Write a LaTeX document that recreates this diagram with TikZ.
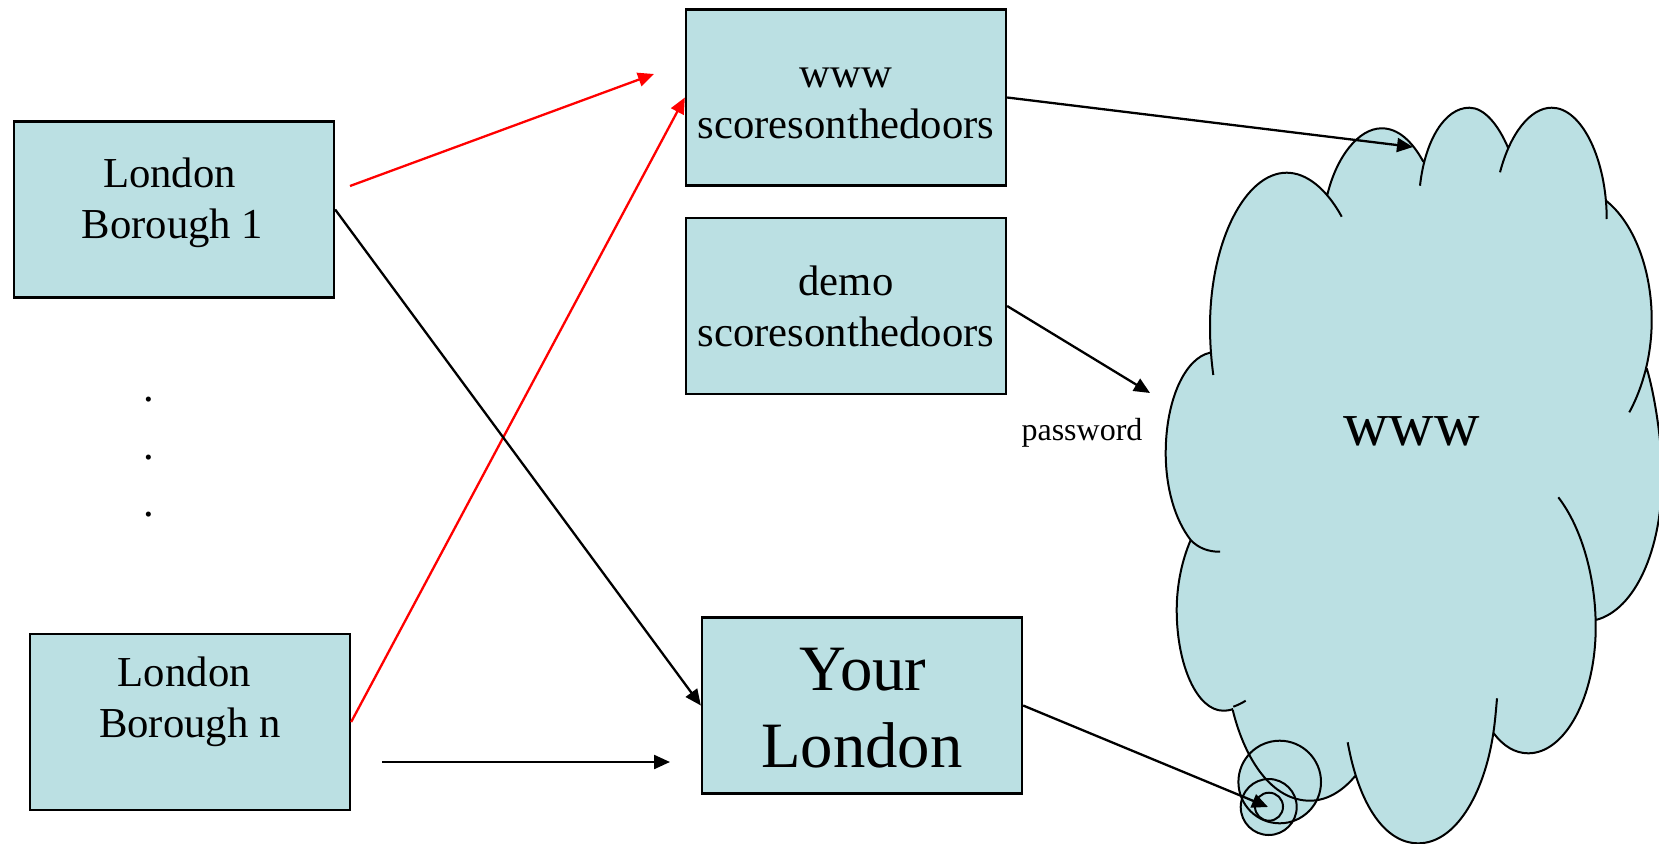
\documentclass[tikz,border=0pt]{standalone}
\usepackage{fontspec}
\setmainfont{Liberation Serif}
\usetikzlibrary{arrows.meta}
\definecolor{cloudblue}{RGB}{187,224,227}
\newcommand{\sizeA}{\fontsize{42.7}{51}\selectfont}
\newcommand{\sizeB}{\fontsize{64.7}{77}\selectfont}
\tikzset{
  boxshape/.style={draw=black,fill=cloudblue,line width=2.3pt,minimum width=#1,minimum height=176pt,inner sep=0pt},
  boxtext/.style={align=center,anchor=base,inner sep=0pt,font=\sizeA},
  bigtext/.style={align=center,anchor=base,inner sep=0pt,font=\sizeB},
  plaintext/.style={anchor=base,inner sep=0pt},
  link/.style={line width=2.3pt,-{Triangle[length=16pt,width=14pt]}},
  redlink/.style={link,red},
  lobe/.style={line width=2pt,line cap=butt},
  ring/.style={line width=2pt,draw=black}
}
\newcommand{\lobeA}{(1213.3,375) .. controls (1211,358) and (1210,342) .. (1210,326.7) .. controls (1210,242) and (1245,172.7) .. (1286.7,172.7) .. controls (1306,172.7) and (1326,188) .. (1341.7,216.7)}
\newcommand{\lobeB}{(1327.3,195) .. controls (1336,158) and (1358,128.3) .. (1381.7,128.3) .. controls (1398,128.3) and (1412,141) .. (1423.3,161.7)}
\newcommand{\lobeC}{(1420,185.7) .. controls (1425,140) and (1445,107.7) .. (1469.3,107.7) .. controls (1484,107.7) and (1498,124) .. (1508.3,148.3)}
\newcommand{\lobeD}{(1500,172.3) .. controls (1510,134) and (1530,107.7) .. (1551.7,107.7) .. controls (1582,107.7) and (1606.7,160) .. (1606.7,219)}
\newcommand{\lobeE}{(1606,200.7) .. controls (1633,222) and (1651.7,268) .. (1651.7,320) .. controls (1651.7,355) and (1643,387) .. (1629.3,412.3)}
\newcommand{\lobeF}{(1646.7,368.3) .. controls (1654,392) and (1662,440) .. (1662,476) .. controls (1662,550) and (1635,610) .. (1595.7,620)}
\newcommand{\lobeG}{(1558.3,497.3) .. controls (1582,528) and (1595.7,578) .. (1595.7,627) .. controls (1595.7,697) and (1565,753.3) .. (1528.3,753.3) .. controls (1515,753.3) and (1503,746) .. (1493.3,732.7)}
\newcommand{\lobeH}{(1497,698.3) .. controls (1496,710) and (1495,722) .. (1493.3,733.3) .. controls (1484,795) and (1455,843.3) .. (1418.3,843.3) .. controls (1385,843.3) and (1359,805) .. (1347.7,742.3)}
\newcommand{\lobeI}{(1356,775) .. controls (1343,791) and (1327,800.7) .. (1310,800.7) .. controls (1272,800.7) and (1245,760) .. (1232.7,710)}
\newcommand{\lobeJ}{(1233,709) .. controls (1229,710.5) and (1226,710.7) .. (1223.3,710.7) .. controls (1197,710.7) and (1176.7,665) .. (1176.7,610) .. controls (1176.7,585) and (1182,560) .. (1190.7,540)}
\newcommand{\lobeK}{(1190.7,540) .. controls (1198,548) and (1209,552) .. (1220,551.7)}
\newcommand{\lobeL}{(1190.7,540) .. controls (1175,520) and (1165.7,488) .. (1165.7,453) .. controls (1165.7,400) and (1185,358) .. (1210,352.7)}
\newcommand{\lobeM}{(1233.3,706.7) .. controls (1238,705) and (1242,703) .. (1245.7,700.7)}
\begin{document}
\begin{tikzpicture}[x=1pt,y=-1pt]
\useasboundingbox (0,0) rectangle (1659,843);
% cloud
\fill[cloudblue] (1279.7,782) circle[radius=41.3];
\fill[cloudblue] (1268.7,807) circle[radius=28];
\fill[cloudblue] \lobeA -- \lobeB -- \lobeC -- \lobeD -- \lobeE -- \lobeF -- \lobeG -- \lobeH -- \lobeI -- \lobeJ -- \lobeL -- cycle;
\draw[lobe] \lobeA \lobeB \lobeC \lobeD \lobeE \lobeF \lobeG \lobeH \lobeI \lobeJ \lobeK \lobeL \lobeM;
\draw[ring] (1279.7,782) circle[radius=41.3];
\draw[ring] (1268.7,807) circle[radius=28];
\draw[ring] (1269,806.7) circle[radius=14];
\node[plaintext] (cloudlabel) at (1411.5,445) {\fontsize{63}{70}\selectfont www};
% boxes
\node[boxshape=320pt] (b1) at (174,209.5) {};
\node[boxshape=320pt] (bn) at (190,722) {};
\node[boxshape=320pt] (wwwbox) at (846,97.5) {};
\node[boxshape=320pt] (demobox) at (846,306) {};
\node[boxshape=320pt] (your) at (862,705.5) {};
% box texts (base anchor sits on the last line)
\node[boxtext] (b1t) at (172.5,238) {London\kern6pt\\Borough 1};
\node[boxtext] (bnt) at (189.8,737.7) {London\kern11pt\\Borough n};
\node[boxtext] (wwwt) at (846,138) {www\\scoresonthedoors};
\node[boxtext] (demot) at (846,346.7) {demo\\scoresonthedoors};
\node[bigtext] (yourt) at (862,767.7) {\kern2pt Your\\London};
% other text
\node[plaintext] (pw) at (1082,440) {\fontsize{32}{38}\selectfont password};
\node[plaintext] (dot1) at (149,401.5) {\sizeA .};
\node[plaintext] (dot2) at (149,459.5) {\sizeA .};
\node[plaintext] (dot3) at (149,516.5) {\sizeA .};
% connector free ends
\coordinate (c1) at (1413,147);
\coordinate (c2) at (1150,393);
\coordinate (c3) at (1268,807);
\coordinate (r1s) at (350,186);
\coordinate (r1e) at (654,74);
\coordinate (hs) at (382,762);
\coordinate (he) at (670,762);
% connectors
\draw[redlink] (r1s) -- (r1e);
\draw[redlink] (bn.east) -- (wwwbox.west);
\draw[link] (b1.east) -- (your.west);
\draw[link] (hs) -- (he);
\draw[link] (wwwbox.east) -- (c1);
\draw[link] (demobox.east) -- (c2);
\draw[link] (your.east) -- (c3);
\end{tikzpicture}
\end{document}
